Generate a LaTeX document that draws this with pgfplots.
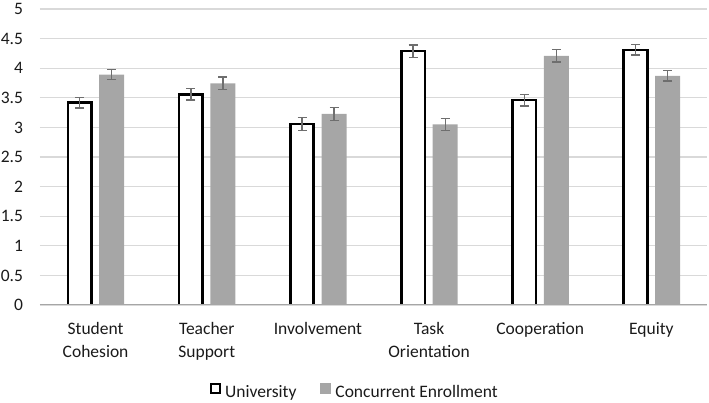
\documentclass[border=0pt]{standalone}
\usepackage{fontspec}
\setmainfont{Carlito}
\usepackage{pgfplots}
\pgfplotsset{compat=1.18}
\definecolor{gridgray}{HTML}{D9D9D9}
\definecolor{barGray}{HTML}{A6A6A6}
\definecolor{errGray}{HTML}{6E6E6E}
\definecolor{txt}{HTML}{1A1A1A}
\begin{document}
\fontsize{17.5}{21}\selectfont
\begin{tikzpicture}[x=1pt,y=1pt]
\path[use as bounding box] (0,0) rectangle (709,403);
\begin{axis}[
  at={(40pt,98pt)}, anchor=south west,
  scale only axis, width=667pt, height=296pt,
  xmin=-0.5, xmax=5.5, ymin=0, ymax=5,
  ytick={0,0.5,1,1.5,2,2.5,3,3.5,4,4.5,5},
  xtick={0,1,2,3,4,5},
  xticklabels={{Student\\Cohesion},{Teacher\\Support},{Involvement},{Task\\Orientation},{Cooperation},{Equity}},
  /pgf/number format/assume math mode=true,
  axis line style={draw=none},
  major tick style={draw=none},
  ymajorgrids, grid style={gridgray, line width=1.3pt},
  tick label style={font=\fontsize{17.5}{23}\selectfont, text=txt},
  xticklabel style={align=center, anchor=north, yshift=-11pt},
  yticklabel style={anchor=east, xshift=-11pt},
  legend style={at={(0.472,-0.295)}, anchor=center, draw=none, fill=none,
    font=\fontsize{17.5}{21}\selectfont, text=txt, legend columns=2,
    /tikz/every even column/.append style={column sep=22pt},
    /tikz/every odd column/.append style={column sep=2pt}},
  error bars/y dir=both, error bars/y explicit,
  error bars/error bar style={errGray, line width=1.4pt},
  error bars/error mark options={errGray, line width=1.4pt, mark size=4.5pt, rotate=90},
]
\addplot+[ybar, bar width=0.211, bar shift=0, draw=black, line width=2.6pt, fill=white, mark=none,
  legend image code/.code={\draw[black, line width=2.2pt, fill=white] (0pt,-1pt) rectangle (9pt,8pt);}]
  coordinates {(-0.143,3.42) +- (0,0.09) (0.857,3.56) +- (0,0.10) (1.857,3.06) +- (0,0.11)
               (2.857,4.29) +- (0,0.105) (3.857,3.46) +- (0,0.10) (4.857,4.31) +- (0,0.09)};
\addlegendentry{University}
\addplot+[ybar, bar width=0.225, bar shift=0, draw=none, fill=barGray, mark=none,
  legend image code/.code={\fill[barGray] (-1pt,-2pt) rectangle (10pt,9pt);}]
  coordinates {(0.145,3.89) +- (0,0.085) (1.145,3.745) +- (0,0.105) (2.145,3.23) +- (0,0.11)
               (3.145,3.05) +- (0,0.10) (4.145,4.21) +- (0,0.105) (5.145,3.87) +- (0,0.087)};
\addlegendentry{Concurrent Enrollment}
\draw[color=gray!70, line width=1.6pt] (axis cs:-0.5,0) -- (axis cs:5.5,0);
\end{axis}
\end{tikzpicture}
\end{document}
